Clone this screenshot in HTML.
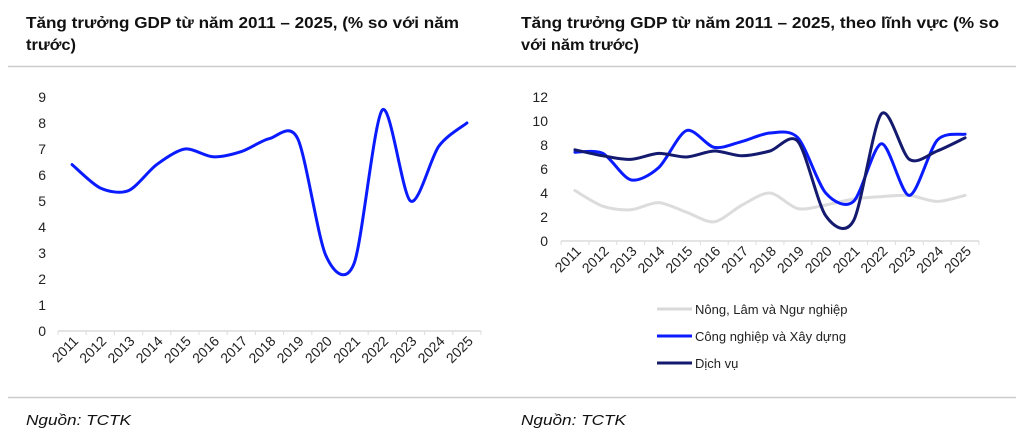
<!DOCTYPE html>
<html><head><meta charset="utf-8"><style>
html,body{margin:0;padding:0;background:#fff;width:1024px;height:438px;overflow:hidden}
svg text{font-family:"Liberation Sans",sans-serif}
</style></head><body>
<svg id="s" width="1024" height="438" viewBox="0 0 1024 438" xmlns="http://www.w3.org/2000/svg">
<g font-weight="bold" font-size="16" fill="#111">
<text x="26" y="28" textLength="433" lengthAdjust="spacingAndGlyphs">Tăng trưởng GDP từ năm 2011 – 2025, (% so với năm</text>
<text x="26" y="50" textLength="50" lengthAdjust="spacingAndGlyphs">trước)</text>
<text x="521" y="28" textLength="478" lengthAdjust="spacingAndGlyphs">Tăng trưởng GDP từ năm 2011 – 2025, theo lĩnh vực (% so</text>
<text x="521" y="50" textLength="118" lengthAdjust="spacingAndGlyphs">với năm trước)</text>
</g>
<line x1="8" y1="66.5" x2="1016" y2="66.5" stroke="#ccc" stroke-width="1.5"/>
<line x1="8" y1="397.5" x2="1016" y2="397.5" stroke="#ccc" stroke-width="1.5"/>
<g font-style="italic" font-size="15" fill="#111">
<text x="26" y="425" textLength="105" lengthAdjust="spacingAndGlyphs">Nguồn: TCTK</text>
<text x="521" y="425" textLength="105" lengthAdjust="spacingAndGlyphs">Nguồn: TCTK</text>
</g>
<g id="c"></g>
<g font-size="13" fill="#222">
<line x1="657" y1="309" x2="692" y2="309" stroke="#d9d9d9" stroke-width="3"/>
<text x="695" y="314">Nông, Lâm và Ngư nghiệp</text>
<line x1="657" y1="336" x2="692" y2="336" stroke="#0a1cff" stroke-width="3"/>
<text x="695" y="341">Công nghiệp và Xây dựng</text>
<line x1="657" y1="363" x2="692" y2="363" stroke="#141a6e" stroke-width="3"/>
<text x="695" y="368">Dịch vụ</text>
</g>
</svg>
<script>
var g=document.getElementById("c"),out="";
function path(pts){var d="M"+pts[0][0]+","+pts[0][1];for(var i=0;i<pts.length-1;i++){var p0=pts[i-1]||pts[i],p1=pts[i],p2=pts[i+1],p3=pts[i+2]||p2;var t=7;d+=" C"+(p1[0]+(p2[0]-p0[0])/t)+","+(p1[1]+(p2[1]-p0[1])/t)+" "+(p2[0]-(p3[0]-p1[0])/t)+","+(p2[1]-(p3[1]-p1[1])/t)+" "+p2[0]+","+p2[1];}return d;}
function chart(x0,x1,y0,ppu,max,step,series,lblx){
 var w=(x1-x0)/15;
 out+='<line x1="'+x0+'" y1="'+y0+'" x2="'+x1+'" y2="'+y0+'" stroke="#dcdcdc" stroke-width="1.5"/>';
 for(var i=0;i<=15;i++){var x=x0+i*w;out+='<line x1="'+x+'" y1="'+y0+'" x2="'+x+'" y2="'+(y0+4)+'" stroke="#dcdcdc"/>';}
 for(var v=0;v<=max;v+=step){out+='<text x="'+lblx+'" y="'+(y0-v*ppu+5)+'" font-size="14" text-anchor="end" fill="#222">'+v+'</text>';}
 for(var i=0;i<15;i++){var x=x0+w*(i+0.5)+7,y=y0+11;out+='<text font-size="14" fill="#222" text-anchor="end" transform="translate('+x+','+y+') rotate(-45)">'+(2011+i)+'</text>';}
 series.forEach(function(s){var pts=s.v.map(function(v,i){return[x0+w*(i+0.5),y0-v*ppu]});out+='<path d="'+path(pts)+'" fill="none" stroke="'+s.c+'" stroke-width="3" stroke-linecap="round"/>';});
}
chart(58,481,331,26,9,1,[{c:"#0a1cff",v:[6.4,5.5,5.4,6.4,7.0,6.7,6.9,7.4,7.4,2.9,2.6,8.5,5.0,7.1,8.0]}],46);
chart(561,979,241,12,12,2,[
 {c:"#dcdcdc",v:[4.2,2.9,2.6,3.2,2.4,1.6,3.0,4.0,2.7,3.0,3.5,3.7,3.8,3.3,3.8]},
 {c:"#0a1cff",v:[7.4,7.3,5.1,6.1,9.2,7.8,8.3,9.0,8.6,4.0,3.3,8.1,3.8,8.4,8.9]},
 {c:"#141a6e",v:[7.6,7.1,6.8,7.3,7.0,7.5,7.1,7.5,8.3,2.1,1.7,10.6,6.8,7.5,8.6]}],548);
g.innerHTML=out;
</script>
</body></html>
